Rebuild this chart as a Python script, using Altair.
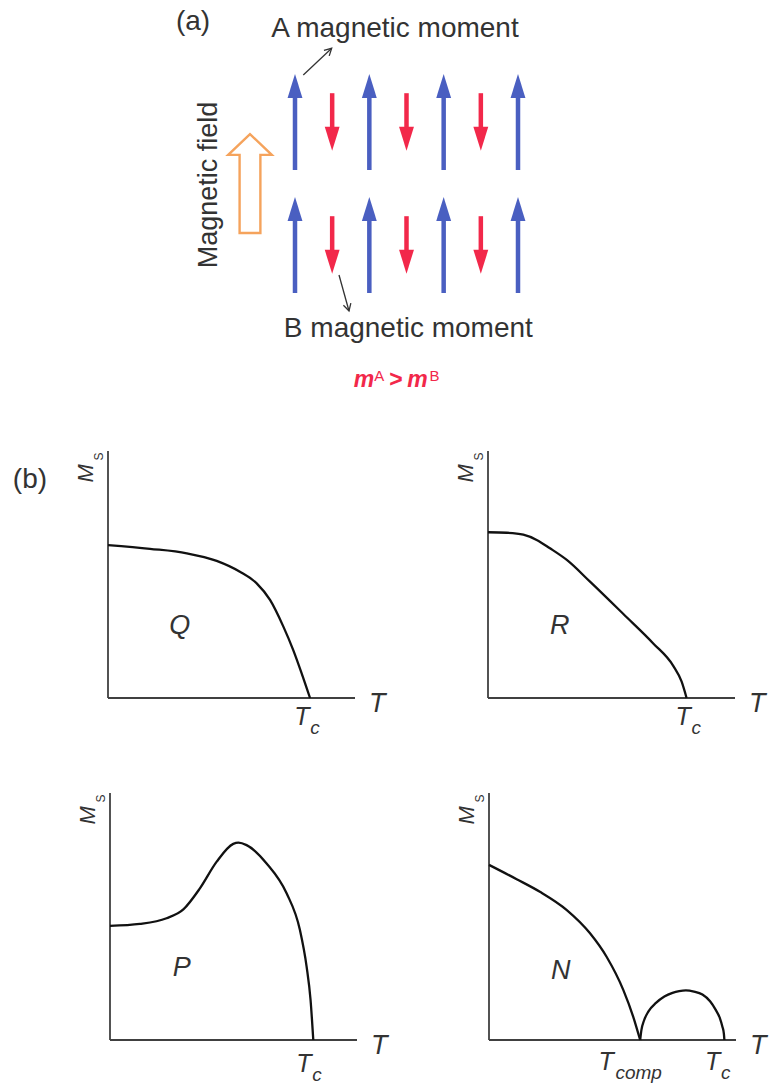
import math
import altair as alt
import pandas as pd

FONT = "Liberation Sans"
INK = "#333333"
AXIS_INK = "#404040"
CURVE_INK = "#111111"
BLUE = "#4a5fc1"
RED = "#f2284a"
ORANGE = "#f5a35c"

# ---- (a) two rows of antiparallel moments on sublattices A and B ----
sites_A = [0, 2, 4, 6]
sites_B = [1, 3, 5]
row_centres = [2.0, 7.125]
moment_A = 4.0
moment_B = 2.4

# ---- (b) saturation magnetisation vs temperature, in axis-length units ----
Q_T = [0.0, 0.17, 0.319, 0.44, 0.534, 0.602, 0.656, 0.71, 0.75, 0.784, 0.818]
Q_M = [0.619, 0.604, 0.586, 0.555, 0.511, 0.464, 0.397, 0.289, 0.194, 0.10, 0.0]

R_T = [0.0, 0.076, 0.143, 0.197, 0.251, 0.319, 0.413, 0.548, 0.669, 0.75, 0.784, 0.804]
R_M = [0.671, 0.669, 0.661, 0.640, 0.606, 0.559, 0.471, 0.340, 0.221, 0.130, 0.066, 0.0]

P_T = [0.0, 0.121, 0.229, 0.297, 0.364, 0.432, 0.499, 0.52, 0.553, 0.634,
       0.715, 0.769, 0.796, 0.812, 0.823]
P_M = [0.462, 0.47, 0.493, 0.529, 0.614, 0.722, 0.794, 0.799, 0.789, 0.715,
       0.594, 0.445, 0.297, 0.162, 0.0]

# N-type: moment vanishes at T_comp, then reappears up to T_c
N1_T = [0.0, 0.112, 0.206, 0.315, 0.409, 0.476, 0.544, 0.584, 0.612]
N1_M = [0.709, 0.651, 0.6, 0.526, 0.432, 0.337, 0.202, 0.094, 0.0]
N2_T = [0.612, 0.617, 0.628, 0.645, 0.676, 0.71, 0.743, 0.77, 0.797, 0.83,
        0.864, 0.895, 0.918, 0.935, 0.945, 0.951, 0.953]
N2_M = [0.0, 0.04, 0.08, 0.115, 0.150, 0.176, 0.191, 0.198, 0.201, 0.196,
        0.184, 0.157, 0.122, 0.088, 0.054, 0.025, 0.0]

# ---- drawing frames: (x domain, x pixel range, y domain, y pixel range) ----
DIAG = ([0, 6], [295, 518], [0, 10], [293, 53])
FRAMES = {
    "Q": ([0, 1], [108, 355], [0, 1], [698, 451]),
    "R": ([0, 1], [488, 735], [0, 1], [698, 451]),
    "P": ([0, 1], [110, 357], [0, 1], [1040, 793]),
    "N": ([0, 1], [489, 736], [0, 1], [1040, 793]),
}

UP_HEAD = "M0,0 L0.62,2 L-0.62,2 Z"
DOWN_HEAD = "M0,0 L0.62,-2 L-0.62,-2 Z"
OPEN_HEAD = "M-0.55,1 L0,0 L0.55,1"
FIELD_ARROW = "M-0.21,1 L0.21,1 L0.21,-0.58 L0.44,-0.58 L0,-1 L-0.44,-0.58 L-0.21,-0.58 Z"

layers = []


def xenc(frame, field="x"):
    return alt.X(f"{field}:Q", axis=None,
                 scale=alt.Scale(domain=frame[0], range=frame[1], nice=False, zero=False))


def yenc(frame, field="y"):
    return alt.Y(f"{field}:Q", axis=None,
                 scale=alt.Scale(domain=frame[2], range=frame[3], nice=False, zero=False))


def add_text(frame, rows, **kw):
    df = pd.DataFrame(rows, columns=["x", "y", "t"])
    kw.setdefault("align", "center")
    kw.setdefault("baseline", "alphabetic")
    kw.setdefault("color", INK)
    layers.append(
        alt.Chart(df).mark_text(font=FONT, **kw).encode(
            x=xenc(frame), y=yenc(frame), text="t:N"))


# ---------- (a) moments ----------
blue = pd.DataFrame(
    [(c, r - moment_A / 2, r + moment_A / 2) for r in row_centres for c in sites_A],
    columns=["x", "base", "tip"])
blue["shaft_end"] = blue["tip"] - 0.5
red = pd.DataFrame(
    [(c, r + moment_B / 2, r - moment_B / 2) for r in row_centres for c in sites_B],
    columns=["x", "base", "tip"])
red["shaft_end"] = red["tip"] + 0.5

for df, colour, head in ((blue, BLUE, UP_HEAD), (red, RED, DOWN_HEAD)):
    layers.append(
        alt.Chart(df).mark_rule(color=colour, strokeWidth=4.5, strokeCap="butt").encode(
            x=xenc(DIAG), y=yenc(DIAG, "base"), y2=alt.Y2("shaft_end:Q")))
    layers.append(
        alt.Chart(df).mark_point(shape=head, size=576, filled=True, color=colour,
                                 opacity=1, strokeWidth=0).encode(
            x=xenc(DIAG), y=yenc(DIAG, "tip")))

# applied field: hollow orange arrow
field_arrow = pd.DataFrame({"x": [-1.211], "y": [4.56]})
layers.append(
    alt.Chart(field_arrow).mark_point(shape=FIELD_ARROW, size=99 ** 2, filled=False,
                                      stroke=ORANGE, strokeWidth=2.4, opacity=1,
                                      strokeJoin="miter").encode(
        x=xenc(DIAG), y=yenc(DIAG)))

# leader lines from the labels to one A moment and one B moment
px_x = (DIAG[1][1] - DIAG[1][0]) / (DIAG[0][1] - DIAG[0][0])
px_y = (DIAG[3][0] - DIAG[3][1]) / (DIAG[2][1] - DIAG[2][0])
leaders = pd.DataFrame({"x": [0.223, 1.184], "y": [9.083, 0.75],
                        "x2": [0.987, 1.453], "y2": [10.196, -0.75]})
leaders["ang"] = [
    math.degrees(math.atan2((x2 - x) * px_x, (y2 - y) * px_y))
    for x, y, x2, y2 in zip(leaders.x, leaders.y, leaders.x2, leaders.y2)]
layers.append(
    alt.Chart(leaders).mark_rule(color=INK, strokeWidth=1.3).encode(
        x=xenc(DIAG), y=yenc(DIAG), x2=alt.X2("x2:Q"), y2=alt.Y2("y2:Q")))
layers.append(
    alt.Chart(leaders).mark_point(shape=OPEN_HEAD, size=196, filled=False, color=INK,
                                  strokeWidth=1.3, opacity=1).encode(
        x=xenc(DIAG, "x2"), y=yenc(DIAG, "y2"), angle=alt.Angle("ang:Q", scale=None)))

add_text(DIAG, [(-2.744, 10.96, "(a)")], fontSize=28)
add_text(DIAG, [(2.69, 10.67, "A magnetic moment"),
                (3.05, -1.83, "B magnetic moment")], fontSize=28)
add_text(DIAG, [(-2.098, 4.5, "Magnetic field")], fontSize=27, angle=270)

# m^A > m^B
add_text(DIAG, [(1.856, -3.917, "m"), (3.296, -3.917, "m")], fontSize=23,
         fontStyle="italic", fontWeight="bold", color=RED)
add_text(DIAG, [(2.717, -3.917, ">")], fontSize=23, fontWeight="bold", color=RED)
add_text(DIAG, [(2.27, -3.667, "A"), (3.75, -3.667, "B")], fontSize=15, color=RED)

# ---------- (b) four M_S(T) panels ----------
curves = {
    "Q": [(Q_T, Q_M)],
    "R": [(R_T, R_M)],
    "P": [(P_T, P_M)],
    "N": [(N1_T, N1_M), (N2_T, N2_M)],
}
tc_base = {"Q": -0.109, "R": -0.109, "P": -0.13, "N": -0.121}
tc_pos = {"Q": 0.785, "R": 0.79, "P": 0.785, "N": 0.905}
name_base = {"Q": 0.26, "R": 0.26, "P": 0.26, "N": 0.245}

axes = pd.DataFrame({"x": [0, 0], "y": [0, 0], "x2": [0, 1], "y2": [1, 0]})

for name, frame in FRAMES.items():
    layers.append(
        alt.Chart(axes).mark_rule(color=AXIS_INK, strokeWidth=1.8).encode(
            x=xenc(frame), y=yenc(frame), x2=alt.X2("x2:Q"), y2=alt.Y2("y2:Q")))
    rows = []
    for seg, (ts, ms) in enumerate(curves[name]):
        rows += [(seg, t, m) for t, m in zip(ts, ms)]
    cdf = pd.DataFrame(rows, columns=["seg", "x", "y"])
    layers.append(
        alt.Chart(cdf).mark_line(color=CURVE_INK, strokeWidth=2.3,
                                 interpolate="monotone").encode(
            x=xenc(frame), y=yenc(frame), detail="seg:N"))

    # axis titles
    add_text(frame, [(-0.062, 0.91, "M")], fontSize=22, fontStyle="italic", angle=270)
    add_text(frame, [(-0.022, 0.978, "S")], fontSize=12, angle=270)
    add_text(frame, [(1.09, -0.057, "T")], fontSize=27, fontStyle="italic")

    # T_c marker
    tb = tc_base[name]
    add_text(frame, [(tc_pos[name], tb, "T")], fontSize=25, fontStyle="italic")
    add_text(frame, [(tc_pos[name] + 0.053, tb - 0.035, "c")], fontSize=19,
             fontStyle="italic")

    # curve type
    add_text(frame, [(0.29, name_base[name], name)], fontSize=27, fontStyle="italic")

# compensation temperature on the N panel
add_text(FRAMES["N"], [(0.474, -0.121, "T")], fontSize=25, fontStyle="italic")
add_text(FRAMES["N"], [(0.512, -0.156, "comp")], fontSize=19, fontStyle="italic",
         align="left")

add_text(FRAMES["Q"], [(-0.316, 0.85, "(b)")], fontSize=28)

chart = (
    alt.layer(*layers)
    .resolve_scale(x="independent", y="independent")
    .properties(width=773, height=1089, padding=0,
                autosize=alt.AutoSizeParams(type="none"), background="white")
    .configure_view(stroke=None)
)

chart.save("out.html", embed_options={"renderer": "svg", "actions": False})
